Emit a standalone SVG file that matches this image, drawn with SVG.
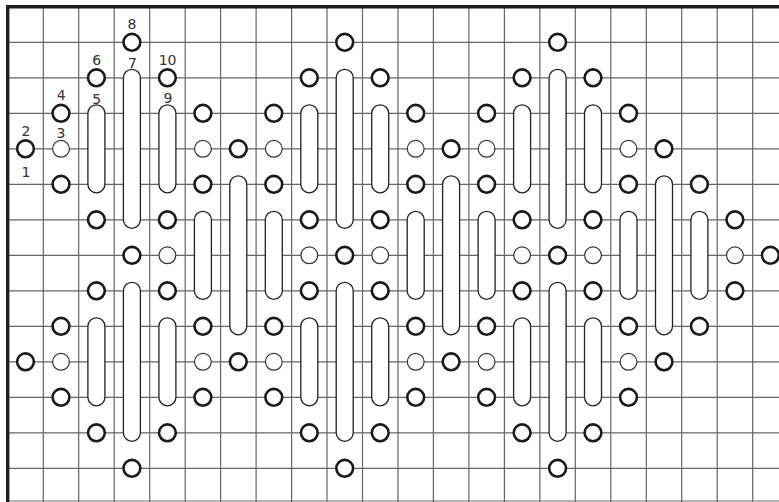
<svg xmlns="http://www.w3.org/2000/svg" width="779" height="502" viewBox="0 0 779 502">
<style>
.grid{stroke:#666;stroke-width:1.2;fill:none}
.border{stroke:#1e1e1e;stroke-width:3.4;fill:none}
.p{fill:#fff;stroke:#222;stroke-width:1.3}
.T{fill:#fff;stroke:#1a1a1a;stroke-width:2.6}
.t{fill:#fff;stroke:#333;stroke-width:1.2}
.lbl{font-family:"DejaVu Sans","Liberation Sans",sans-serif;font-size:14px;fill:#333;text-anchor:middle}
</style>
<rect width="779" height="502" fill="#fff"/>
<g id="grid">
<path class="grid" d="M7.8 42.3H779M7.8 77.8H779M7.8 113.3H779M7.8 148.8H779M7.8 184.3H779M7.8 219.8H779M7.8 255.3H779M7.8 290.8H779M7.8 326.3H779M7.8 361.8H779M7.8 397.3H779M7.8 432.8H779M7.8 468.3H779M7.8 501H779"/>
<path class="grid" d="M43.3 6.7V502M78.7 6.7V502M114.2 6.7V502M149.7 6.7V502M185.2 6.7V502M220.6 6.7V502M256.1 6.7V502M291.6 6.7V502M327 6.7V502M362.5 6.7V502M398 6.7V502M433.4 6.7V502M468.9 6.7V502M504.4 6.7V502M539.9 6.7V502M575.3 6.7V502M610.8 6.7V502M646.3 6.7V502M681.7 6.7V502M717.2 6.7V502M752.7 6.7V502"/>
<path class="border" d="M7.7 502V6.7H779"/>
</g>
<g id="connectors"></g>
<g id="pills">
<g id="p-c3-top"><rect class="p" x="123.4" y="69.3" width="17" height="159" rx="8.5"/></g>
<g id="p-c9-top"><rect class="p" x="336.2" y="69.3" width="17" height="159" rx="8.5"/></g>
<g id="p-c15-top"><rect class="p" x="549.1" y="69.3" width="17" height="159" rx="8.5"/></g>
<g id="p-c3-bot"><rect class="p" x="123.4" y="282.3" width="17" height="159" rx="8.5"/></g>
<g id="p-c9-bot"><rect class="p" x="336.2" y="282.3" width="17" height="159" rx="8.5"/></g>
<g id="p-c15-bot"><rect class="p" x="549.1" y="282.3" width="17" height="159" rx="8.5"/></g>
<g id="p-c2-top"><rect class="p" x="87.9" y="104.8" width="17" height="88" rx="8.5"/></g>
<g id="p-c4-top"><rect class="p" x="158.9" y="104.8" width="17" height="88" rx="8.5"/></g>
<g id="p-c8-top"><rect class="p" x="300.8" y="104.8" width="17" height="88" rx="8.5"/></g>
<g id="p-c10-top"><rect class="p" x="371.7" y="104.8" width="17" height="88" rx="8.5"/></g>
<g id="p-c14-top"><rect class="p" x="513.6" y="104.8" width="17" height="88" rx="8.5"/></g>
<g id="p-c16-top"><rect class="p" x="584.5" y="104.8" width="17" height="88" rx="8.5"/></g>
<g id="p-c2-bot"><rect class="p" x="87.9" y="317.8" width="17" height="88" rx="8.5"/></g>
<g id="p-c4-bot"><rect class="p" x="158.9" y="317.8" width="17" height="88" rx="8.5"/></g>
<g id="p-c8-bot"><rect class="p" x="300.8" y="317.8" width="17" height="88" rx="8.5"/></g>
<g id="p-c10-bot"><rect class="p" x="371.7" y="317.8" width="17" height="88" rx="8.5"/></g>
<g id="p-c14-bot"><rect class="p" x="513.6" y="317.8" width="17" height="88" rx="8.5"/></g>
<g id="p-c16-bot"><rect class="p" x="584.5" y="317.8" width="17" height="88" rx="8.5"/></g>
<g id="p-c6-mid"><rect class="p" x="229.8" y="175.8" width="17" height="159" rx="8.5"/></g>
<g id="p-c12-mid"><rect class="p" x="442.6" y="175.8" width="17" height="159" rx="8.5"/></g>
<g id="p-c18-mid"><rect class="p" x="655.5" y="175.8" width="17" height="159" rx="8.5"/></g>
<g id="p-c5-mid"><rect class="p" x="194.4" y="211.3" width="17" height="88" rx="8.5"/></g>
<g id="p-c7-mid"><rect class="p" x="265.3" y="211.3" width="17" height="88" rx="8.5"/></g>
<g id="p-c11-mid"><rect class="p" x="407.2" y="211.3" width="17" height="88" rx="8.5"/></g>
<g id="p-c13-mid"><rect class="p" x="478.1" y="211.3" width="17" height="88" rx="8.5"/></g>
<g id="p-c17-mid"><rect class="p" x="620" y="211.3" width="17" height="88" rx="8.5"/></g>
<g id="p-c19-mid"><rect class="p" x="690.9" y="211.3" width="17" height="88" rx="8.5"/></g>
</g>
<g id="rings">
<g id="n3-1"><circle class="T" cx="131.9" cy="42.3" r="8.4"/></g>
<g id="n2-2"><circle class="T" cx="96.4" cy="77.8" r="8.4"/></g>
<g id="n4-2"><circle class="T" cx="167.4" cy="77.8" r="8.4"/></g>
<g id="n1-3"><circle class="T" cx="61" cy="113.3" r="8.4"/></g>
<g id="n5-3"><circle class="T" cx="202.9" cy="113.3" r="8.4"/></g>
<g id="n0-4"><circle class="T" cx="25.5" cy="148.8" r="8.4"/></g>
<g id="n1-4"><circle class="t" cx="61" cy="148.8" r="8.4"/></g>
<g id="n5-4"><circle class="t" cx="202.9" cy="148.8" r="8.4"/></g>
<g id="n6-4"><circle class="T" cx="238.3" cy="148.8" r="8.4"/></g>
<g id="n1-5"><circle class="T" cx="61" cy="184.3" r="8.4"/></g>
<g id="n5-5"><circle class="T" cx="202.9" cy="184.3" r="8.4"/></g>
<g id="n2-6"><circle class="T" cx="96.4" cy="219.8" r="8.4"/></g>
<g id="n4-6"><circle class="T" cx="167.4" cy="219.8" r="8.4"/></g>
<g id="n3-7"><circle class="T" cx="131.9" cy="255.3" r="8.4"/></g>
<g id="n4-7"><circle class="t" cx="167.4" cy="255.3" r="8.4"/></g>
<g id="n2-8"><circle class="T" cx="96.4" cy="290.8" r="8.4"/></g>
<g id="n4-8"><circle class="T" cx="167.4" cy="290.8" r="8.4"/></g>
<g id="n1-9"><circle class="T" cx="61" cy="326.3" r="8.4"/></g>
<g id="n5-9"><circle class="T" cx="202.9" cy="326.3" r="8.4"/></g>
<g id="n0-10"><circle class="T" cx="25.5" cy="361.8" r="8.4"/></g>
<g id="n1-10"><circle class="t" cx="61" cy="361.8" r="8.4"/></g>
<g id="n5-10"><circle class="t" cx="202.9" cy="361.8" r="8.4"/></g>
<g id="n6-10"><circle class="T" cx="238.3" cy="361.8" r="8.4"/></g>
<g id="n1-11"><circle class="T" cx="61" cy="397.3" r="8.4"/></g>
<g id="n5-11"><circle class="T" cx="202.9" cy="397.3" r="8.4"/></g>
<g id="n2-12"><circle class="T" cx="96.4" cy="432.8" r="8.4"/></g>
<g id="n4-12"><circle class="T" cx="167.4" cy="432.8" r="8.4"/></g>
<g id="n3-13"><circle class="T" cx="131.9" cy="468.3" r="8.4"/></g>

<g id="n9-1"><circle class="T" cx="344.7" cy="42.3" r="8.4"/></g>
<g id="n8-2"><circle class="T" cx="309.3" cy="77.8" r="8.4"/></g>
<g id="n10-2"><circle class="T" cx="380.2" cy="77.8" r="8.4"/></g>
<g id="n7-3"><circle class="T" cx="273.8" cy="113.3" r="8.4"/></g>
<g id="n11-3"><circle class="T" cx="415.7" cy="113.3" r="8.4"/></g>
<g id="n7-4"><circle class="t" cx="273.8" cy="148.8" r="8.4"/></g>
<g id="n11-4"><circle class="t" cx="415.7" cy="148.8" r="8.4"/></g>
<g id="n12-4"><circle class="T" cx="451.1" cy="148.8" r="8.4"/></g>
<g id="n7-5"><circle class="T" cx="273.8" cy="184.3" r="8.4"/></g>
<g id="n11-5"><circle class="T" cx="415.7" cy="184.3" r="8.4"/></g>
<g id="n8-6"><circle class="T" cx="309.3" cy="219.8" r="8.4"/></g>
<g id="n10-6"><circle class="T" cx="380.2" cy="219.8" r="8.4"/></g>
<g id="n8-7"><circle class="t" cx="309.3" cy="255.3" r="8.4"/></g>
<g id="n9-7"><circle class="T" cx="344.7" cy="255.3" r="8.4"/></g>
<g id="n10-7"><circle class="t" cx="380.2" cy="255.3" r="8.4"/></g>
<g id="n8-8"><circle class="T" cx="309.3" cy="290.8" r="8.4"/></g>
<g id="n10-8"><circle class="T" cx="380.2" cy="290.8" r="8.4"/></g>
<g id="n7-9"><circle class="T" cx="273.8" cy="326.3" r="8.4"/></g>
<g id="n11-9"><circle class="T" cx="415.7" cy="326.3" r="8.4"/></g>
<g id="n7-10"><circle class="t" cx="273.8" cy="361.8" r="8.4"/></g>
<g id="n11-10"><circle class="t" cx="415.7" cy="361.8" r="8.4"/></g>
<g id="n12-10"><circle class="T" cx="451.1" cy="361.8" r="8.4"/></g>
<g id="n7-11"><circle class="T" cx="273.8" cy="397.3" r="8.4"/></g>
<g id="n11-11"><circle class="T" cx="415.7" cy="397.3" r="8.4"/></g>
<g id="n8-12"><circle class="T" cx="309.3" cy="432.8" r="8.4"/></g>
<g id="n10-12"><circle class="T" cx="380.2" cy="432.8" r="8.4"/></g>
<g id="n9-13"><circle class="T" cx="344.7" cy="468.3" r="8.4"/></g>

<g id="n15-1"><circle class="T" cx="557.6" cy="42.3" r="8.4"/></g>
<g id="n14-2"><circle class="T" cx="522.1" cy="77.8" r="8.4"/></g>
<g id="n16-2"><circle class="T" cx="593" cy="77.8" r="8.4"/></g>
<g id="n13-3"><circle class="T" cx="486.6" cy="113.3" r="8.4"/></g>
<g id="n17-3"><circle class="T" cx="628.5" cy="113.3" r="8.4"/></g>
<g id="n13-4"><circle class="t" cx="486.6" cy="148.8" r="8.4"/></g>
<g id="n17-4"><circle class="t" cx="628.5" cy="148.8" r="8.4"/></g>
<g id="n18-4"><circle class="T" cx="664" cy="148.8" r="8.4"/></g>
<g id="n13-5"><circle class="T" cx="486.6" cy="184.3" r="8.4"/></g>
<g id="n17-5"><circle class="T" cx="628.5" cy="184.3" r="8.4"/></g>
<g id="n14-6"><circle class="T" cx="522.1" cy="219.8" r="8.4"/></g>
<g id="n16-6"><circle class="T" cx="593" cy="219.8" r="8.4"/></g>
<g id="n14-7"><circle class="t" cx="522.1" cy="255.3" r="8.4"/></g>
<g id="n15-7"><circle class="T" cx="557.6" cy="255.3" r="8.4"/></g>
<g id="n16-7"><circle class="t" cx="593" cy="255.3" r="8.4"/></g>
<g id="n14-8"><circle class="T" cx="522.1" cy="290.8" r="8.4"/></g>
<g id="n16-8"><circle class="T" cx="593" cy="290.8" r="8.4"/></g>
<g id="n13-9"><circle class="T" cx="486.6" cy="326.3" r="8.4"/></g>
<g id="n17-9"><circle class="T" cx="628.5" cy="326.3" r="8.4"/></g>
<g id="n13-10"><circle class="t" cx="486.6" cy="361.8" r="8.4"/></g>
<g id="n17-10"><circle class="t" cx="628.5" cy="361.8" r="8.4"/></g>
<g id="n18-10"><circle class="T" cx="664" cy="361.8" r="8.4"/></g>
<g id="n13-11"><circle class="T" cx="486.6" cy="397.3" r="8.4"/></g>
<g id="n17-11"><circle class="T" cx="628.5" cy="397.3" r="8.4"/></g>
<g id="n14-12"><circle class="T" cx="522.1" cy="432.8" r="8.4"/></g>
<g id="n16-12"><circle class="T" cx="593" cy="432.8" r="8.4"/></g>
<g id="n15-13"><circle class="T" cx="557.6" cy="468.3" r="8.4"/></g>

<g id="n19-5"><circle class="T" cx="699.4" cy="184.3" r="8.4"/></g>
<g id="n19-9"><circle class="T" cx="699.4" cy="326.3" r="8.4"/></g>
<g id="n20-6"><circle class="T" cx="734.9" cy="219.8" r="8.4"/></g>
<g id="n20-7"><circle class="t" cx="734.9" cy="255.3" r="8.4"/></g>
<g id="n20-8"><circle class="T" cx="734.9" cy="290.8" r="8.4"/></g>
<g id="n21-7"><circle class="T" cx="770.4" cy="255.3" r="8.4"/></g>
</g>
<g id="labels">
<text class="lbl" x="132" y="29">8</text>
<text class="lbl" x="96.6" y="65">6</text>
<text class="lbl" x="132.5" y="68">7</text>
<text class="lbl" x="167.6" y="64.5">10</text>
<text class="lbl" x="61.3" y="100">4</text>
<text class="lbl" x="96.6" y="103.5">5</text>
<text class="lbl" x="168" y="103.3">9</text>
<text class="lbl" x="26" y="135.5">2</text>
<text class="lbl" x="61" y="138">3</text>
<text class="lbl" x="26" y="177">1</text>
</g>
</svg>
